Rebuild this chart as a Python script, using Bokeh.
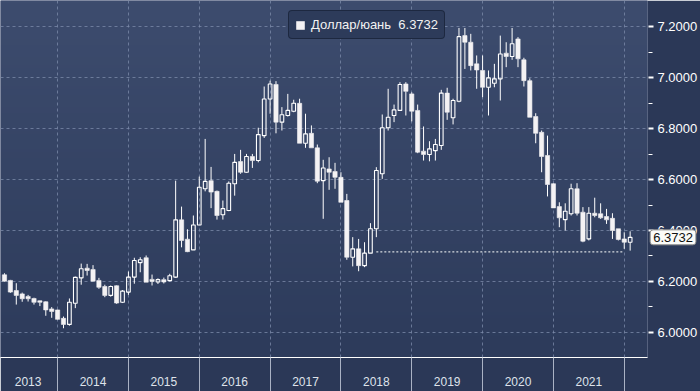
import numpy as np
from bokeh.plotting import figure
from bokeh.models import (Range1d, LinearAxis, FixedTicker, PrintfTickFormatter,
                          Grid, Legend, LegendItem, Label)
from bokeh.embed import file_html
from bokeh.resources import INLINE

# ---------------- data (monthly candles, first = Apr 2013) ----------------
series_name = "Доллар/юань"
first_month = "2013-04"
open_ = [6.226, 6.204, 6.164, 6.151, 6.141, 6.133, 6.124, 6.120, 6.092, 6.088,
         6.055, 6.031, 6.114, 6.214, 6.252, 6.247, 6.204, 6.180, 6.145, 6.183,
         6.118, 6.158, 6.217, 6.274, 6.293, 6.208, 6.198, 6.207, 6.203, 6.217,
         6.442, 6.366, 6.324, 6.422, 6.564, 6.596, 6.554, 6.462, 6.479, 6.584,
         6.671, 6.629, 6.691, 6.675, 6.773, 6.917, 6.974, 6.826, 6.852, 6.869,
         6.900, 6.743, 6.782, 6.725, 6.596, 6.642, 6.632, 6.609, 6.518, 6.295,
         6.328, 6.262, 6.311, 6.407, 6.623, 6.804, 6.852, 6.872, 6.976, 6.937,
         6.872, 6.712, 6.699, 6.714, 6.734, 6.940, 6.843, 6.908, 7.166, 7.140,
         7.055, 7.029, 6.963, 6.979, 6.996, 7.097, 7.084, 7.153, 7.071, 6.989,
         6.848, 6.786, 6.695, 6.584, 6.494, 6.443, 6.466, 6.564, 6.472, 6.367,
         6.468, 6.466, 6.455, 6.448, 6.407, 6.367, 6.354]
high = [6.232, 6.206, 6.193, 6.156, 6.147, 6.136, 6.125, 6.122, 6.099, 6.089,
        6.062, 6.133, 6.219, 6.270, 6.269, 6.264, 6.214, 6.187, 6.184, 6.185,
        6.166, 6.239, 6.293, 6.295, 6.302, 6.227, 6.212, 6.215, 6.230, 6.596,
        6.494, 6.405, 6.459, 6.612, 6.760, 6.650, 6.557, 6.518, 6.593, 6.701,
        6.717, 6.701, 6.701, 6.804, 6.966, 6.989, 6.987, 6.885, 6.937, 6.914,
        6.918, 6.859, 6.813, 6.738, 6.678, 6.688, 6.666, 6.629, 6.544, 6.374,
        6.367, 6.354, 6.429, 6.649, 6.856, 6.957, 6.895, 6.983, 6.983, 6.943,
        6.895, 6.809, 6.751, 6.760, 6.953, 6.961, 6.918, 7.196, 7.196, 7.173,
        7.088, 7.088, 7.029, 7.055, 7.166, 7.140, 7.196, 7.160, 7.079, 6.998,
        6.861, 6.793, 6.773, 6.586, 6.511, 6.507, 6.584, 6.586, 6.492, 6.492,
        6.529, 6.507, 6.485, 6.468, 6.407, 6.393, 6.397]
low = [6.199, 6.155, 6.109, 6.120, 6.121, 6.109, 6.103, 6.065, 6.057, 6.050,
       6.016, 6.026, 6.095, 6.187, 6.223, 6.200, 6.171, 6.138, 6.140, 6.112,
       6.115, 6.147, 6.191, 6.236, 6.197, 6.184, 6.190, 6.192, 6.200, 6.214,
       6.334, 6.315, 6.324, 6.422, 6.554, 6.488, 6.443, 6.443, 6.476, 6.537,
       6.623, 6.627, 6.646, 6.668, 6.764, 6.859, 6.782, 6.793, 6.848, 6.865,
       6.743, 6.725, 6.725, 6.586, 6.446, 6.560, 6.564, 6.511, 6.285, 6.259,
       6.240, 6.256, 6.311, 6.374, 6.603, 6.793, 6.826, 6.872, 6.852, 6.829,
       6.704, 6.675, 6.672, 6.675, 6.717, 6.835, 6.817, 6.904, 7.035, 7.029,
       6.957, 6.924, 6.852, 6.963, 6.911, 7.042, 7.071, 7.042, 6.966, 6.845,
       6.743, 6.629, 6.534, 6.489, 6.413, 6.400, 6.459, 6.459, 6.354, 6.361,
       6.452, 6.446, 6.426, 6.367, 6.361, 6.328, 6.321]
close = [6.201, 6.158, 6.145, 6.132, 6.132, 6.118, 6.118, 6.088, 6.082, 6.051,
         6.031, 6.118, 6.216, 6.250, 6.243, 6.201, 6.177, 6.145, 6.180, 6.115,
         6.162, 6.217, 6.282, 6.285, 6.197, 6.200, 6.207, 6.198, 6.222, 6.442,
         6.361, 6.317, 6.422, 6.570, 6.593, 6.551, 6.459, 6.486, 6.586, 6.668,
         6.629, 6.691, 6.675, 6.777, 6.917, 6.976, 6.826, 6.855, 6.872, 6.900,
         6.743, 6.780, 6.725, 6.594, 6.646, 6.629, 6.609, 6.511, 6.295, 6.328,
         6.262, 6.311, 6.407, 6.636, 6.804, 6.845, 6.874, 6.974, 6.947, 6.869,
         6.708, 6.699, 6.721, 6.738, 6.940, 6.865, 6.911, 7.162, 7.140, 7.048,
         7.031, 6.963, 7.000, 6.996, 7.094, 7.084, 7.134, 7.075, 6.989, 6.845,
         6.782, 6.691, 6.581, 6.489, 6.450, 6.476, 6.564, 6.468, 6.358, 6.468,
         6.459, 6.450, 6.442, 6.400, 6.365, 6.354, 6.3732]

year_labels = ["2013", "2014", "2015", "2016", "2017", "2018", "2019", "2020", "2021"]
year_label_pos = [4, 15, 27, 39, 51, 63, 75, 87, 99]          # candle index of label centre
year_bounds = [9, 21, 33, 45, 57, 69, 81, 93, 105]            # candle index of each January
y_major = [6.0, 6.2, 6.4, 6.6, 6.8, 7.0, 7.2]
y_minor = [6.1, 6.3, 6.5, 6.7, 6.9, 7.1]
support_level = 6.316
support_from, support_to = 63, 105
last_value = close[-1]

# ---------------- derived ----------------
o = np.array(open_); h = np.array(high); l = np.array(low); c = np.array(close)
x = np.arange(len(o))
top_body = np.maximum(o, c)
bot_body = np.minimum(o, c)
up = c >= o
dn = ~up

X0, X1 = -0.675, 108.94
Y0, Y1 = 5.901, 7.304

p = figure(width=700, height=391, x_range=Range1d(X0, X1), y_range=Range1d(Y0, Y1),
           output_backend="svg", toolbar_location=None,
           x_axis_location=None, y_axis_location=None,
           min_border_left=0, min_border_top=0, min_border_right=50, min_border_bottom=34,
           background_fill_color="#34436a", border_fill_color="#2b3857",
           outline_line_color=None)
for g in p.grid:
    g.visible = False

# background vertical gradient
H = 120
t = np.linspace(0.0, 1.0, H)
topc = np.array([0x3d, 0x4c, 0x6e], dtype=float)
botc = np.array([0x2d, 0x3b, 0x5b], dtype=float)
img = np.empty((H, 1), dtype=np.uint32)
view = img.view(dtype=np.uint8).reshape((H, 1, 4))
cols = botc[None, :] + (topc - botc)[None, :] * t[:, None]
view[:, 0, 0:3] = cols.astype(np.uint8)
view[:, 0, 3] = 255
p.image_rgba(image=[img], x=X0, y=Y0, dw=X1 - X0, dh=Y1 - Y0, level="image")

# grids
grid_kw = dict(grid_line_color="#7d8cab", grid_line_alpha=0.75, grid_line_width=1,
               grid_line_dash="3 3")
p.add_layout(Grid(dimension=1, ticker=FixedTicker(ticks=y_major), **grid_kw))
p.add_layout(Grid(dimension=0, ticker=FixedTicker(ticks=year_bounds), **grid_kw))

# wicks
p.segment(x0=x, y0=h, x1=x, y1=top_body, line_color="white", line_width=1)
p.segment(x0=x, y0=bot_body, x1=x, y1=l, line_color="white", line_width=1)

# bodies
r_dn = p.vbar(x=x[dn], top=o[dn], bottom=c[dn], width=0.72,
              fill_color="#f4f2f4", line_color="#f4f2f4", line_width=0.6)
p.vbar(x=x[up], top=c[up], bottom=o[up], width=0.62,
       fill_alpha=0, line_color="white", line_width=1.1)

# support line
p.segment(x0=[support_from], y0=[support_level], x1=[support_to], y1=[support_level],
          line_color="white", line_width=1, line_dash="2 2")

# last value tag: a Label in the first right-hand side panel (drawn unclipped)
tag = Label(x=X1 + 0.45, x_units="data", y=last_value, y_units="data",
            text=f"{last_value:.4f}", text_color="#111111", text_font="Liberation Sans",
            text_font_size="13px", text_baseline="middle", text_align="left",
            background_fill_color="#fbfbf8", border_line_color="#8a8a8a")
if "padding" in Label.properties():
    tag.padding = 3
if "border_radius" in Label.properties():
    tag.border_radius = 3
p.add_layout(tag, "right")

# right axis, stacked outside the tag panel; ticks reach back to the frame edge
yaxis = LinearAxis(ticker=FixedTicker(ticks=y_major, minor_ticks=y_minor),
                   formatter=PrintfTickFormatter(format="%.4f"),
                   major_label_text_color="white", major_label_text_font="Liberation Sans",
                   major_label_text_font_size="13px", major_label_standoff=4,
                   major_tick_out=-40, major_tick_in=45, major_tick_line_color="white",
                   major_tick_line_width=2, minor_tick_out=-41, minor_tick_in=45,
                   minor_tick_line_color="white", minor_tick_line_width=1,
                   axis_line_color=None)
p.add_layout(yaxis, "right")

# bottom axis (labels on major ticks, year separators as long minor ticks)
xaxis = LinearAxis(ticker=FixedTicker(ticks=year_label_pos, minor_ticks=year_bounds),
                   major_label_overrides={k: v for k, v in zip(year_label_pos, year_labels)},
                   major_label_text_color="#dfe3eb", major_label_text_font="Liberation Sans",
                   major_label_text_font_size="12px", major_label_standoff=-15,
                   major_tick_out=0, major_tick_in=0,
                   minor_tick_out=34, minor_tick_in=0, minor_tick_line_color="#aab2c4",
                   minor_tick_line_width=1,
                   axis_line_color="white", axis_line_width=1)
p.add_layout(xaxis, "below")

# legend
legend = Legend(items=[LegendItem(label=f"{series_name}  {last_value:.4f}", renderers=[r_dn])],
                location=(288, 318), orientation="horizontal",
                label_text_font="Liberation Sans", label_text_font_size="13px",
                label_text_color="#f2f2f2", label_height=13, label_standoff=6,
                glyph_width=10, glyph_height=10, padding=6, margin=0, spacing=0,
                background_fill_color="#2d3b5a", background_fill_alpha=1,
                border_line_color="#0e1526", border_line_width=1)
if "border_radius" in Legend.properties():
    legend.border_radius = 4
p.add_layout(legend, "center")

open("out.html", "w").write(file_html(p, INLINE))
